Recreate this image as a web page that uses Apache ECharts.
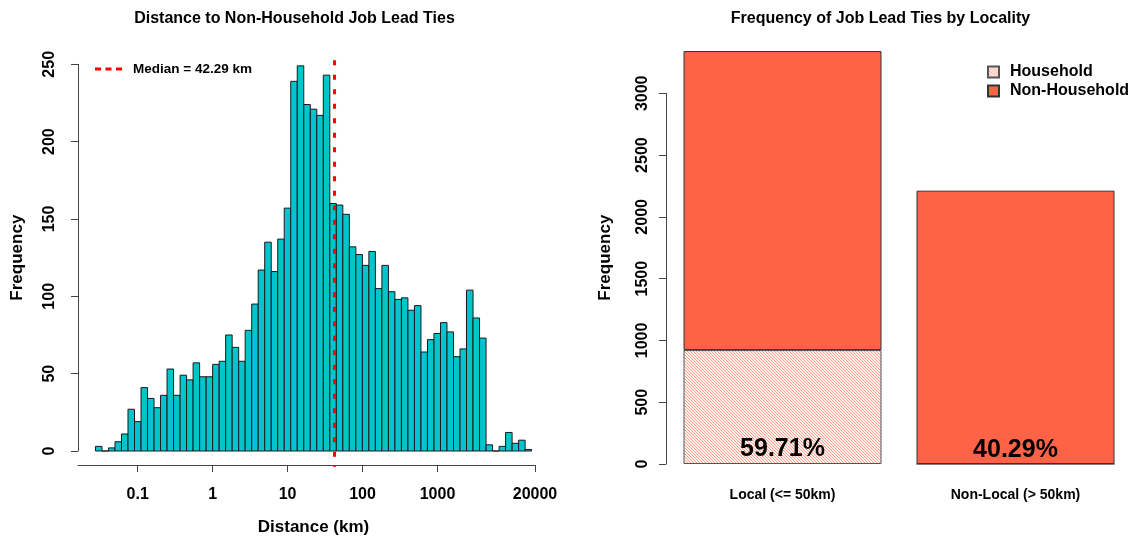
<!DOCTYPE html>
<html>
<head>
<meta charset="utf-8">
<script src="https://cdn.jsdelivr.net/npm/echarts@6/dist/echarts.min.js"></script>
<style>
html,body{margin:0;padding:0;background:#fff;}
#chart{width:1132px;height:541px;}
</style>
</head>
<body>
<div id="chart"></div>
<script>
// ---------- DATA ----------
// Histogram of ln(distance km), bins of width 0.2 starting at ln = -3.6
const histCounts = [3, 0, 2, 6, 11, 27, 19, 41, 34, 28,
  36, 53, 36, 49, 46, 57, 48, 48, 56, 58,
  75, 67, 58, 78, 95, 117, 135, 116, 137, 157,
  239, 249, 224, 221, 217, 243, 160, 159, 153, 132,
  127, 120, 129, 105, 120, 103, 98, 99, 91, 94,
  64, 72, 76, 83, 77, 61, 66, 104, 86, 73,
  4, 0, 3, 12, 5, 7, 1];
const histFirstBreakLn = -3.6;
const histBinWidthLn = 0.2;
const distTickValues = [0.1, 1, 10, 100, 1000, 20000];
const distTickLabels = ['0.1', '1', '10', '100', '1000', '20000'];
const medianKm = 42.29;
const medianLabel = 'Median = 42.29 km';

const localityCategories = ['Local (<= 50km)', 'Non-Local (> 50km)'];
const householdCounts = [922, 0];
const nonHouseholdCounts = [2420, 2212];
const localityPctLabels = ['59.71%', '40.29%'];

// ---------- BUILD ----------
const FONT = "'Liberation Sans', Arial, Helvetica, sans-serif";
const histData = histCounts.map((c, i) => [
  histFirstBreakLn + i * histBinWidthLn,
  histFirstBreakLn + (i + 1) * histBinWidthLn,
  c
]);
const tickLn = distTickValues.map(v => Math.log(v));

function hatchPattern() {
  const c = document.createElement('canvas');
  c.width = 3; c.height = 3;
  const g = c.getContext('2d');
  g.fillStyle = '#fff3f0';
  g.fillRect(0, 0, 3, 3);
  g.strokeStyle = 'rgba(248,120,98,0.7)';
  g.lineWidth = 1;
  g.beginPath();
  g.moveTo(-1, -1); g.lineTo(4, 4);
  g.moveTo(-1, 2); g.lineTo(1, 4);
  g.moveTo(2, -1); g.lineTo(4, 1);
  g.stroke();
  return c;
}
const hatch = { image: hatchPattern(), repeat: 'repeat' };

const chart = echarts.init(document.getElementById('chart'), null, { renderer: 'canvas' });

const plainNum = v => String(v);

const option = {
  animation: false,
  backgroundColor: '#ffffff',
  textStyle: { fontFamily: FONT, fontWeight: 'bold', color: '#000' },
  title: [
    { text: 'Distance to Non-Household Job Lead Ties', left: 289.5, top: 6, textAlign: 'center',
      textStyle: { fontFamily: FONT, fontWeight: 'bold', fontSize: 16, color: '#000' } },
    { text: 'Frequency of Job Lead Ties by Locality', left: 875.5, top: 6, textAlign: 'center',
      textStyle: { fontFamily: FONT, fontWeight: 'bold', fontSize: 16, color: '#000' } }
  ],
  legend: [
    { data: [{ name: medianLabel, icon: 'path://M0,0h6v3h-6z M10.5,0h6v3h-6z M21,0h6v3h-6z',
               itemStyle: { color: '#ff0000' } }],
      left: 90, top: 57, itemWidth: 27, itemHeight: 3, itemGap: 8,
      textStyle: { fontFamily: FONT, fontWeight: 'bold', fontSize: 13.5, color: '#000', padding: [0, 0, 0, 6] } },
    { data: ['Household', 'Non-Household'], orient: 'vertical', left: 982, top: 59,
      itemWidth: 11, itemHeight: 11, itemGap: 3, icon: 'rect',
      textStyle: { fontFamily: FONT, fontWeight: 'bold', fontSize: 16, color: '#000', padding: [0, 0, 0, 6] } }
  ],
  grid: [
    { left: 78, right: 1132 - 535, top: 64.3, height: 389 },
    { left: 666, width: 470, top: 93.3, height: 370.7 }
  ],
  xAxis: [
    { type: 'value', gridIndex: 0, min: -4.136, max: Math.log(20000), offset: 14,
      axisLine: { show: true, onZero: false, lineStyle: { color: '#444', width: 1 } },
      axisTick: { show: true, length: 7, customValues: tickLn, lineStyle: { color: '#444' } },
      axisLabel: { show: true, customValues: tickLn, margin: 22, fontSize: 16, fontWeight: 'bold', color: '#000',
        fontFamily: FONT,
        formatter: function (v) {
          let best = 0, bd = Infinity;
          tickLn.forEach((t, i) => { const d = Math.abs(t - v); if (d < bd) { bd = d; best = i; } });
          return distTickLabels[best];
        } },
      splitLine: { show: false },
      name: 'Distance (km)', nameLocation: 'middle', nameGap: 54,
      nameTextStyle: { fontFamily: FONT, fontWeight: 'bold', fontSize: 17, color: '#000', padding: [0, 0, 0, 14] } },
    { type: 'category', gridIndex: 1, data: localityCategories,
      axisLine: { show: false }, axisTick: { show: false },
      axisLabel: { margin: 24, fontSize: 14, fontWeight: 'bold', color: '#000', fontFamily: FONT } }
  ],
  yAxis: [
    { type: 'value', gridIndex: 0, min: 0, max: 250, interval: 50,
      axisLine: { show: true, onZero: false, lineStyle: { color: '#444', width: 1 } },
      axisTick: { show: true, length: 7, lineStyle: { color: '#444' } },
      axisLabel: { rotate: 90, margin: 20, fontSize: 16, fontWeight: 'bold', color: '#000', fontFamily: FONT,
        formatter: plainNum },
      splitLine: { show: false },
      name: 'Frequency', nameLocation: 'middle', nameGap: 52, nameRotate: 90,
      nameTextStyle: { fontFamily: FONT, fontWeight: 'bold', fontSize: 17, color: '#000' } },
    { type: 'value', gridIndex: 1, min: 0, max: 3000, interval: 500,
      axisLine: { show: true, onZero: false, lineStyle: { color: '#444', width: 1 } },
      axisTick: { show: true, length: 7, lineStyle: { color: '#444' } },
      axisLabel: { rotate: 90, margin: 15, fontSize: 16, fontWeight: 'bold', color: '#000', fontFamily: FONT,
        formatter: plainNum },
      splitLine: { show: false },
      name: 'Frequency', nameLocation: 'middle', nameGap: 52, nameRotate: 90,
      nameTextStyle: { fontFamily: FONT, fontWeight: 'bold', fontSize: 17, color: '#000', padding: [0, 0, 0, 42] } }
  ],
  series: [
    { type: 'custom', name: 'hist', xAxisIndex: 0, yAxisIndex: 0, data: histData,
      encode: { x: [0, 1], y: 2 }, clip: false,
      renderItem: function (params, api) {
        const p0 = api.coord([api.value(0), api.value(2)]);
        const p1 = api.coord([api.value(1), 0]);
        return { type: 'rect',
          shape: { x: p0[0], y: p0[1], width: p1[0] - p0[0], height: p1[1] - p0[1] },
          style: { fill: '#00C5CD', stroke: '#1a1a1a', lineWidth: 1 } };
      } },
    { type: 'custom', name: medianLabel, xAxisIndex: 0, yAxisIndex: 0, data: [[Math.log(medianKm), 0]],
      clip: false, itemStyle: { color: '#ff0000' }, z: 5,
      renderItem: function (params, api) {
        const x = api.coord([api.value(0), 0])[0];
        const cs = params.coordSys;
        return { type: 'line',
          shape: { x1: x, y1: cs.y - 4, x2: x, y2: cs.y + cs.height + 16 },
          style: { stroke: '#ff0000', lineWidth: 3, lineDash: [5, 9.5] } };
      } },
    { type: 'bar', name: 'Household', xAxisIndex: 1, yAxisIndex: 1, stack: 'loc',
      data: householdCounts, barWidth: 198, clip: false,
      itemStyle: { color: hatch, borderColor: '#555', borderWidth: 1 },
      label: { show: true, position: 'insideBottom', distance: 2,
        formatter: p => localityPctLabels[p.dataIndex],
        fontSize: 25, fontWeight: 'bold', color: '#000', fontFamily: FONT } },
    { type: 'bar', name: 'Non-Household', xAxisIndex: 1, yAxisIndex: 1, stack: 'loc',
      data: nonHouseholdCounts, barWidth: 198, clip: false,
      itemStyle: { color: '#FF6347', borderColor: '#333', borderWidth: 1 } }
  ]
};
chart.setOption(option);
</script>
</body>
</html>
